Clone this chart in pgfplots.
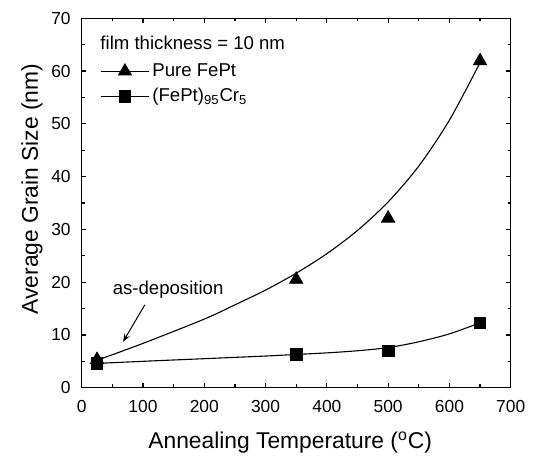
\documentclass[border=0pt]{standalone}
\usepackage{fontspec}
\setmainfont{Liberation Sans}
\usepackage{pgfplots}
\pgfplotsset{compat=1.18}
\usetikzlibrary{calc,arrows.meta}

% measured points
\pgfplotstableread{
T   d
25  5.3
350 20.5
500 32.1
650 61.9
}\purefept
\pgfplotstableread{
T   d
25  4.6
350 6.3
500 7.0
650 12.3
}\fepteCr
% hand-read fitted curves
\pgfplotstableread{
T   d
25  5.2
100 8.4
200 13.0
250 15.7
300 18.5
350 21.7
400 25.4
450 29.8
500 35.2
550 42.0
600 50.7
650 61.6
}\purefit
\pgfplotstableread{
T   d
25  4.6
100 5.0
200 5.5
300 6.0
350 6.3
400 6.6
450 7.0
500 7.6
550 8.7
600 10.2
650 12.3
}\crfit

\begin{document}
\begin{tikzpicture}
\begin{axis}[
    scale only axis,
    width=214.5pt,
    height=184.7pt,
    xmin=0, xmax=700,
    ymin=0, ymax=70,
    xtick={0,100,...,700},
    ytick={0,10,...,70},
    minor x tick num=1,
    minor y tick num=1,
    tick align=inside,
    major tick length=2.4pt,
    minor tick length=1.6pt,
    axis line style={line width=0.75pt},
    every tick/.style={black,line width=0.6pt},
    /pgf/number format/assume math mode=true,
    tick label style={font=\fontsize{8.7}{10}\selectfont},
    xticklabel style={yshift=-2.6pt},
    yticklabel style={xshift=-2pt},
    xlabel={Annealing Temperature (\textsuperscript{o}C)},
    ylabel={Average Grain Size (nm)},
    label style={font=\fontsize{11.4}{13}\selectfont},
    xlabel style={at={(axis description cs:0.486,0)},anchor=center,yshift=-27.6pt},
    ylabel style={at={(axis description cs:0,0.538)},anchor=center,yshift=24.8pt},
    legend style={draw=none,fill=none,at={(axis cs:30,62.1)},anchor=north west,
        font=\fontsize{9.3}{11}\selectfont,row sep=1.6pt,inner sep=0pt,
        nodes={inner sep=1.5pt}},
    legend cell align=left,
    legend image code/.code={
        \draw[mark repeat=2,mark phase=2] plot coordinates {(0cm,0cm) (0.42cm,0cm) (0.84cm,0cm)};
    },
]
\addplot[black,line width=0.55pt,smooth,forget plot] table[x=T,y=d] {\purefit};
\addplot[black,line width=0.55pt,smooth,forget plot] table[x=T,y=d] {\crfit};
\addplot[black,only marks,mark=triangle*,mark size=3.8pt,forget plot] table[x=T,y=d] {\purefept};
\addplot[black,only marks,mark=square*,mark size=2.9pt,forget plot] table[x=T,y=d] {\fepteCr};
\addlegendimage{black,line width=0.55pt,mark=triangle*,mark size=3.6pt}
\addlegendentry{Pure FePt}
\addlegendimage{black,line width=0.55pt,mark=square*,mark size=2.8pt}
\addlegendentry{(FePt)\textsubscript{95}Cr\textsubscript{5}}
\node[anchor=west,font=\fontsize{9.3}{11}\selectfont,inner sep=0pt] at (axis cs:30,65.3) {film thickness = 10 nm};
\node[font=\fontsize{9.3}{11}\selectfont,inner sep=0pt] at (axis cs:141,18.5) {as-deposition};
\draw[-{Stealth[length=4pt,width=3pt]},line width=0.5pt] (axis cs:103,15.7) -- (axis cs:67.5,8.7);
\end{axis}
\pgfresetboundingbox
\path[use as bounding box] ($(current axis.south west)+(-40.85pt,-35.65pt)$) rectangle ($(current axis.north east)+(11.65pt,9.15pt)$);
\end{tikzpicture}
\end{document}
